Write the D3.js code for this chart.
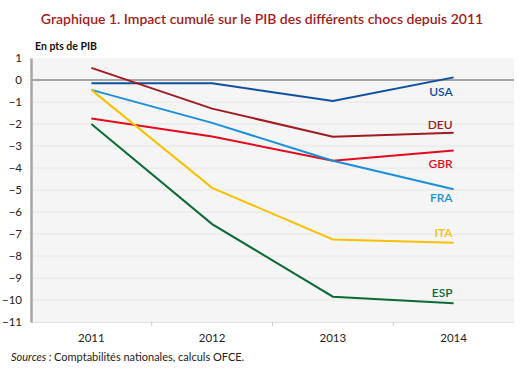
<!DOCTYPE html>
<meta charset="utf-8" />
<html>
  <head>
    <script src="https://d3js.org/d3.v7.min.js"></script>
    <style>
      body { margin: 0; background: white; font-family: Lato, "Open Sans", sans-serif; }
    </style>
  </head>
  <body>
    <div id="chart"></div>
  </body>
  <script>
    const years = ["2011", "2012", "2013", "2014"];
    const yTicks = [1, 0, -1, -2, -3, -4, -5, -6, -7, -8, -9, -10, -11];

    const usa = [-0.15, -0.15, -0.95, 0.12];
    const deu = [0.55, -1.3, -2.58, -2.4];
    const gbr = [-1.75, -2.57, -3.67, -3.2];
    const fra = [-0.45, -1.95, -3.67, -4.97];
    const ita = [-0.45, -4.9, -7.25, -7.4];
    const esp = [-2.0, -6.55, -9.85, -10.15];

    const series = [
      {name: "USA", values: usa, color: "#0f4fa0", labelY: -0.55},
      {name: "DEU", values: deu, color: "#a01b22", labelY: -2.05},
      {name: "GBR", values: gbr, color: "#e30a1e", labelY: -3.82},
      {name: "FRA", values: fra, color: "#1b8fd8", labelY: -5.35},
      {name: "ITA", values: ita, color: "#f9c000", labelY: -6.95},
      {name: "ESP", values: esp, color: "#0c6a35", labelY: -9.65}
    ];

    const width = 520, height = 369;
    const margin = {top: 58, right: 6, bottom: 47, left: 31};

    const svg = d3.select("#chart").append("svg")
      .attr("width", width)
      .attr("height", height);

    const x = d3.scaleBand()
      .domain(years)
      .range([margin.left, width - margin.right]);

    const y = d3.scaleLinear()
      .domain([-11, 1])
      .range([height - margin.bottom, margin.top]);

    // plot background
    svg.append("rect")
      .attr("x", margin.left)
      .attr("y", margin.top)
      .attr("width", width - margin.right - margin.left)
      .attr("height", height - margin.bottom - margin.top)
      .attr("fill", "#f5f5f5");

    // gridlines
    svg.append("g")
      .selectAll("line")
      .data(yTicks.filter(d => d !== 0 && d !== -11 && d !== 1))
      .join("line")
        .attr("x1", margin.left)
        .attr("x2", width - margin.right)
        .attr("y1", d => y(d))
        .attr("y2", d => y(d))
        .attr("stroke", "#e6e6e6")
        .attr("stroke-width", 1);

    // zero line
    svg.append("line")
      .attr("x1", margin.left)
      .attr("x2", width - margin.right)
      .attr("y1", y(0))
      .attr("y2", y(0))
      .attr("stroke", "#a6a6a6")
      .attr("stroke-width", 2);

    // bottom axis
    const xAxis = g => g
      .attr("transform", `translate(0,${height - margin.bottom})`)
      .call(d3.axisBottom(x).tickSize(0).tickPadding(12))
      .call(g => g.select(".domain").attr("stroke", "#e0e0e0"))
      .call(g => g.selectAll("text")
        .attr("font-size", 11.5)
        .attr("font-family", "Lato, sans-serif")
        .attr("fill", "#222"));
    svg.append("g").call(xAxis);

    // small separators between categories
    svg.append("g")
      .selectAll("line")
      .data(years.slice(1))
      .join("line")
        .attr("x1", d => x(d))
        .attr("x2", d => x(d))
        .attr("y1", height - margin.bottom)
        .attr("y2", height - margin.bottom + 4)
        .attr("stroke", "#cccccc");

    // left axis
    const yAxis = g => g
      .attr("transform", `translate(${margin.left},0)`)
      .call(d3.axisLeft(y).tickValues(yTicks).tickSize(0).tickPadding(9).tickFormat(d3.format("d")))
      .call(g => g.select(".domain").attr("stroke", "#a6a6a6").attr("stroke-width", 2.5))
      .call(g => g.selectAll("text")
        .attr("font-size", 11.5)
        .attr("font-family", "Lato, sans-serif")
        .attr("fill", "#222"));
    svg.append("g").call(yAxis);

    const line = d3.line()
      .x((d, i) => x(years[i]) + x.bandwidth() / 2)
      .y(d => y(d));

    svg.append("g")
      .selectAll("path")
      .data(series)
      .join("path")
        .attr("d", d => line(d.values))
        .attr("fill", "none")
        .attr("stroke", d => d.color)
        .attr("stroke-width", 2);

    svg.append("g")
      .selectAll("text")
      .data(series)
      .join("text")
        .attr("x", x("2014") + x.bandwidth() / 2 - 1)
        .attr("y", d => y(d.labelY))
        .attr("dy", "0.35em")
        .attr("text-anchor", "end")
        .attr("font-size", 12)
        .attr("font-weight", "600")
        .attr("font-family", "Lato, sans-serif")
        .attr("fill", d => d.color)
        .text(d => d.name);

    // title
    svg.append("text")
      .attr("x", width / 2 + 2)
      .attr("y", 24)
      .attr("text-anchor", "middle")
      .attr("font-size", 14)
      .attr("font-weight", "600")
      .attr("font-family", "Lato, sans-serif")
      .attr("fill", "#a11b20")
      .text("Graphique 1. Impact cumulé sur le PIB des différents chocs depuis 2011");

    svg.append("text")
      .attr("x", 35)
      .attr("y", 50)
      .attr("font-size", 10.5)
      .attr("font-weight", "bold")
      .attr("font-family", "Lato, sans-serif")
      .attr("fill", "#111")
      .text("En pts de PIB");

    const src = svg.append("text")
      .attr("x", 11)
      .attr("y", 361)
      .attr("font-size", 11)
      .attr("font-family", "Lato, sans-serif")
      .attr("fill", "#222");
    src.append("tspan").attr("font-style", "italic").text("Sources : ");
    src.append("tspan").text("Comptabilités nationales, calculs OFCE.");
  </script>
</html>
